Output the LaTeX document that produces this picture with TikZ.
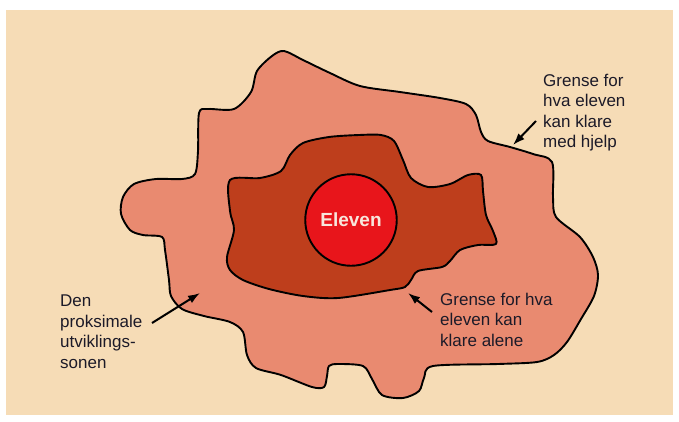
\documentclass[tikz,border=0pt]{standalone}
\usepackage{fontspec}
\setmainfont{Liberation Sans}
\usetikzlibrary{arrows.meta}
\definecolor{bgbeige}{HTML}{F6DCB6}
\definecolor{zonesalmon}{HTML}{E98A70}
\definecolor{innerrust}{HTML}{BE3E1C}
\definecolor{corered}{HTML}{E8151B}
\definecolor{textdark}{HTML}{1C1A28}
\definecolor{lighttext}{HTML}{F8E6DC}
\tikzset{
  blob/.style={draw=black, line width=1.9pt, line join=round},
  label/.style={anchor=north west, inner sep=0pt, align=left, text=textdark,
    font=\fontsize{17}{20.5}\selectfont},
  pointer/.style={draw=black, line width=2pt, -{Latex[length=12pt,width=8.5pt]}},
}
\begin{document}
\begin{tikzpicture}[x=1pt,y=-1pt]
\useasboundingbox (0,0) rectangle (679,421);
\fill[white] (0,0) rectangle (679,421);
\fill[bgbeige] (6,10) rectangle (673,415);
% outer zone
\draw[blob, fill=zonesalmon] plot[smooth cycle, tension=0.5] coordinates {
 (284,51) (303,60) (330,73) (360,86) (400,92) (440,98) (466,104) (476,115)
 (481,132) (488,141) (510,147) (533,154) (552,162) (553,197) (556,217)
 (580,237) (593,257) (598,275) (594,296) (581,319) (567,342) (554,355)
 (537,362) (498,364) (433,366) (424,378) (419,391) (403,398) (382,395)
 (372,379) (363,366) (338,364) (329,366) (327,376) (324,387) (312,387)
 (281,375) (256,368) (247,355) (243,332) (230,322) (204,316) (182,309)
 (171,296) (169,280) (165,250) (162,237) (143,235) (130,230) (121,214)
 (123,197) (134,184) (156,179) (182,179) (195,174) (198,151) (199,113)
 (208,109) (234,109) (251,92) (257,71) (272,56)};
% inner zone
\draw[blob, fill=innerrust] plot[smooth cycle, tension=0.5] coordinates {
 (230,180) (260,178) (281,171) (290,155) (303,143) (329,137) (359,135)
 (381,135) (394,141) (403,160) (411,178) (428,187) (450,184) (468,175)
 (481,175) (483,191) (486,215) (493,231) (496,244) (478,245) (460,250)
 (450,261) (442,267) (418,271) (411,280) (405,287) (390,290) (338,298)
 (303,296) (269,289) (243,280) (230,270) (227,257) (234,230) (230,211)};
% core
\node[circle, draw=black, line width=1.9pt, fill=corered, minimum size=91.5pt,
  inner sep=0pt, text=lighttext, font=\fontsize{19}{22}\selectfont\bfseries]
  (eleven) at (351,220) {Eleven};
% labels
\node[label] (hjelp) at (543,73.6) {Grense for\\hva eleven\\kan klare\\med hjelp};
\node[label] (alene) at (440,292.6) {Grense for hva\\eleven kan\\klare alene};
\node[label] (sonen) at (60,295) {Den\\proksimale\\utviklings-\\sonen};
% arrows
\coordinate (p1s) at (536,121);
\coordinate (p1e) at (513,145);
\coordinate (p2s) at (432,312);
\coordinate (p2e) at (408,293);
\coordinate (p3s) at (152,323);
\coordinate (p3e) at (200,293);
\draw[pointer] (p1s) -- (p1e);
\draw[pointer] (p2s) -- (p2e);
\draw[pointer] (p3s) -- (p3e);
\end{tikzpicture}
\end{document}
